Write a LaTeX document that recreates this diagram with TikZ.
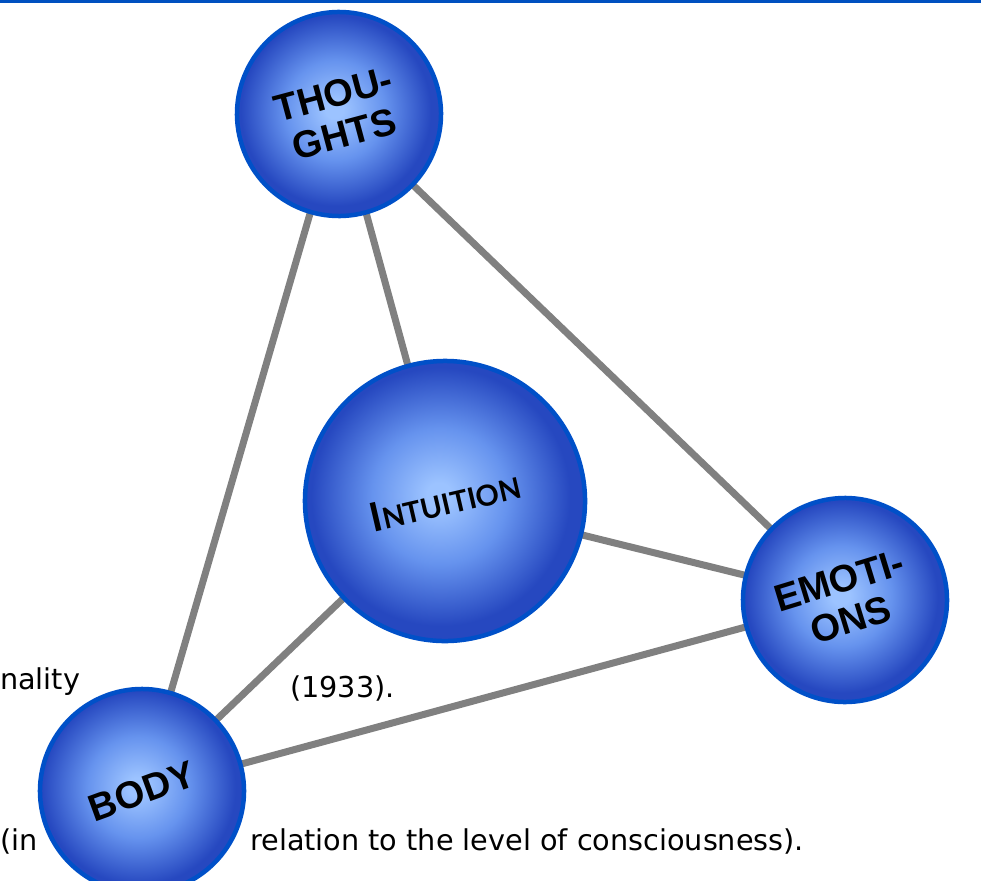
\documentclass[tikz,border=0pt]{standalone}
\usepackage{fontspec}
\setmainfont{DejaVu Sans}
\newfontfamily\orbfont{Liberation Sans}
\newfontfamily\intfont{Lato}
\usetikzlibrary{backgrounds}

\definecolor{orbhi}{HTML}{9CC3FF}
\definecolor{orbmid}{HTML}{6693EE}
\definecolor{orblo}{HTML}{2648C0}
\definecolor{orbrim}{HTML}{0050C8}
\definecolor{linkgray}{HTML}{808080}
\definecolor{barblue}{HTML}{0050C0}
\pgfdeclareradialshading{orbshade}{\pgfpoint{-1bp}{1bp}}{color(0bp)=(orbhi); color(2bp)=(orbhi); color(11bp)=(orbmid); color(21bp)=(orblo); color(70bp)=(orblo)}

\begin{document}
\begin{tikzpicture}[x=1pt,y=-1pt,
    orb/.style={circle, draw=orbrim, line width=4.5pt, shading=orbshade, inner sep=0pt, align=center, text=black},
    orbtext/.style={font={\orbfont\bfseries\fontsize{38}{41}\selectfont}},
    link/.style={draw=linkgray, line width=7pt},
    prose/.style={inner sep=0pt, anchor=base west, font={\fontsize{28.7}{34}\selectfont}}]
    \useasboundingbox (0,0) rectangle (981,880);
    \clip (0,0) rectangle (981,880);
    \draw[barblue, line width=3.5pt] (0,1.5) -- (981,1.5);

    \node[orb, orbtext, minimum size=204pt, rotate=15] (thoughts) at (339,114) {THOU-\\GHTS};
    \node[orb, minimum size=280pt, rotate=13] (intuition) at (445,501)
        {\intfont\bfseries{\fontsize{40}{42}\selectfont I}{\fontsize{29}{32}\selectfont NTUITION}};
    \node[orb, orbtext, minimum size=204pt, rotate=17] (emotions) at (845,600) {EMOTI-\\ONS};
    \node[orb, orbtext, minimum size=204pt, rotate=20] (body) at (142,791) {BODY};

    \begin{scope}[on background layer]
        \foreach \a/\b in {thoughts/body, thoughts/intuition, thoughts/emotions,
                           intuition/emotions, intuition/body, body/emotions} {
            \draw[link] (\a.center) -- (\b.center);
        }
    \end{scope}

    \node[prose] (nality) at (0,689) {nality};
    \node[prose] (year) at (290,697) {(1933).};
    \node[prose] (inword) at (0,850) {(in};
    \node[prose] (relation) at (250,850) {relation to the level of consciousness).};
\end{tikzpicture}
\end{document}
